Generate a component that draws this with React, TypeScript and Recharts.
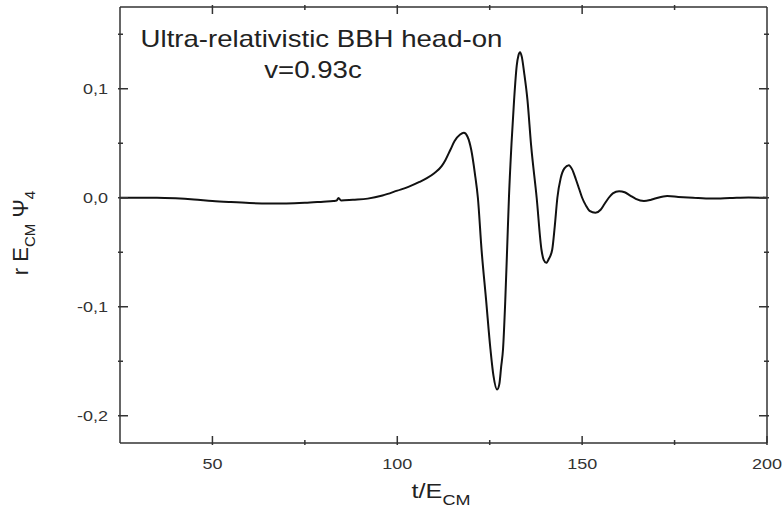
import React from 'react';
import { LineChart, Line, XAxis, YAxis } from 'recharts';

// time axis t/E_CM
const times = [
  25, 30, 35, 40, 45, 50, 55, 60, 65, 70, 75, 80, 82.7, 83.6, 84.1, 84.8, 88, 92, 96, 100,
  103, 106, 108, 110, 112, 113, 114.4, 115.5, 117, 118, 119, 120, 121, 121.8, 122.8, 124, 125.2,
  126, 127, 127.6, 128.1, 128.6, 129.2, 129.7, 130.2, 130.9, 131.6, 132.3, 132.8, 133.2,
  133.7, 134.3, 135.2, 136.2, 137.7, 139, 139.6, 140.3, 141, 141.9, 142.6, 143.3, 144.2,
  145.2, 146.4, 147.3, 148.3, 149.2, 150, 151, 152, 153.6, 155, 156, 157.2, 158.3, 160,
  161.5, 163, 164.5, 166.7, 168.5, 170, 173, 176, 180, 185, 190, 195, 200,
];

// r E_CM Psi_4
const psi4 = [
  0, 0, 0, -0.0005, -0.0015, -0.003, -0.004, -0.0048, -0.0052, -0.0052, -0.0047, -0.0036,
  -0.003, -0.0026, -0.0002, -0.0025, -0.0018, -0.0008, 0.002, 0.0065,
  0.01, 0.0145, 0.018, 0.0225, 0.029, 0.0345, 0.0443, 0.052, 0.058, 0.0596, 0.056, 0.044, 0.022,
  0, -0.048, -0.093, -0.139,
  -0.163, -0.176, -0.171, -0.155, -0.139, -0.095, -0.048, 0, 0.05, 0.09, 0.121, 0.131, 0.1336,
  0.129, 0.115, 0.09, 0.048, 0, -0.0477, -0.057, -0.0597, -0.056, -0.0477, -0.026, 0, 0.018,
  0.027, 0.0299, 0.026, 0.017, 0.008, 0, -0.007, -0.012, -0.0138, -0.011, -0.006, 0, 0.004, 0.006,
  0.005, 0.002, -0.001, -0.003, -0.002, -0.0005, 0.0015, 0.0008, 0, -0.0008, -0.0003, 0.0003, 0,
];

const xTicks = [25, 50, 75, 100, 125, 150, 175, 200];
const xMajor = [50, 100, 150, 200];
const yTicks = [-0.2, -0.15, -0.1, -0.05, 0, 0.05, 0.1, 0.15];

const data = times.map((t, i) => ({ t, v: psi4[i] }));

const FONT = '"Liberation Sans", Arial, sans-serif';
const INK = '#333';
const SX = 1.2; // text in the source is drawn a bit wide

const isMajorY = (v: number) => Math.abs(v * 10 - Math.round(v * 10)) < 1e-6;

const BottomTick = (props: any) => {
  const { x, y, payload } = props;
  const major = xMajor.includes(payload.value);
  if (payload.value === 25) return null;
  return (
    <g>
      <line x1={x} y1={y} x2={x} y2={y - (major ? 9 : 5)} stroke={INK} strokeWidth={1.5} />
      {major && (
        <text
          transform={`translate(${x},${y + 24}) scale(${SX},1)`}
          textAnchor="middle"
          fontSize={15}
          fontFamily={FONT}
          fill={INK}
        >
          {payload.value}
        </text>
      )}
    </g>
  );
};

const TopTick = (props: any) => {
  const { x, y, payload } = props;
  const major = xMajor.includes(payload.value);
  if (payload.value === 25 || payload.value === 200) return null;
  return <line x1={x} y1={y} x2={x} y2={y + (major ? 9 : 5)} stroke={INK} strokeWidth={1.5} />;
};

const LeftTick = (props: any) => {
  const { x, y, payload } = props;
  const major = isMajorY(payload.value);
  return (
    <g>
      <line x1={x} y1={y} x2={x + (major ? 10 : 5)} y2={y} stroke={INK} strokeWidth={1.5} />
      {major && (
        <text
          transform={`translate(${x - 10},${y + 5}) scale(${SX},1)`}
          textAnchor="end"
          fontSize={15}
          fontFamily={FONT}
          fill={INK}
        >
          {payload.value.toFixed(1).replace('.', ',')}
        </text>
      )}
    </g>
  );
};

const RightTick = (props: any) => {
  const { x, y, payload } = props;
  const major = isMajorY(payload.value);
  return <line x1={x} y1={y} x2={x - (major ? 10 : 5)} y2={y} stroke={INK} strokeWidth={1.5} />;
};

export default function App() {
  return (
    <div style={{ position: 'absolute', left: 0, top: 0, background: '#fff' }}>
      <LineChart width={782} height={515} data={data} margin={{ top: 6, right: 14, bottom: 0, left: 0 }}>
        <XAxis
          xAxisId="b"
          dataKey="t"
          type="number"
          domain={[25, 200]}
          ticks={xTicks}
          height={72}
          tickSize={0}
          tickLine={false}
          tick={BottomTick}
          axisLine={{ stroke: INK, strokeWidth: 1.5 }}
          allowDataOverflow
        />
        <XAxis
          xAxisId="top"
          orientation="top"
          dataKey="t"
          type="number"
          domain={[25, 200]}
          ticks={xTicks}
          height={1}
          tickSize={0}
          tickLine={false}
          tick={TopTick}
          axisLine={{ stroke: INK, strokeWidth: 1.5 }}
          allowDataOverflow
        />
        <YAxis
          yAxisId="l"
          type="number"
          domain={[-0.225, 0.175]}
          ticks={yTicks}
          width={120}
          tickSize={0}
          tickLine={false}
          tick={LeftTick}
          axisLine={{ stroke: INK, strokeWidth: 1.5 }}
          allowDataOverflow
        />
        <YAxis
          yAxisId="r"
          orientation="right"
          type="number"
          domain={[-0.225, 0.175]}
          ticks={yTicks}
          width={1}
          tickSize={0}
          tickLine={false}
          tick={RightTick}
          axisLine={{ stroke: INK, strokeWidth: 1.5 }}
          allowDataOverflow
        />
        {/* invisible copy so the mirrored frame axes are drawn */}
        <Line
          xAxisId="top"
          yAxisId="r"
          dataKey="v"
          stroke="none"
          dot={false}
          activeDot={false}
          isAnimationActive={false}
        />
        <Line
          xAxisId="b"
          yAxisId="l"
          dataKey="v"
          type="monotone"
          stroke="#111"
          strokeWidth={2}
          dot={false}
          isAnimationActive={false}
        />
        <text
          transform={`translate(321.5,47) scale(${SX},1)`}
          textAnchor="middle"
          fontSize={23}
          fontFamily={FONT}
          fill="#222"
        >
          Ultra-relativistic BBH head-on
        </text>
        <text
          transform={`translate(313,78) scale(${SX},1)`}
          textAnchor="middle"
          fontSize={23}
          fontFamily={FONT}
          fill="#222"
        >
          v=0.93c
        </text>
        <text
          transform={`translate(441,498) scale(${SX},1)`}
          textAnchor="middle"
          fontSize={21}
          fontFamily={FONT}
          fill="#222"
        >
          t/E<tspan fontSize={15} dy={7}>CM</tspan>
        </text>
        <text
          transform="translate(28,233) rotate(-90)"
          textAnchor="middle"
          fontSize={22}
          fontFamily={FONT}
          fill="#222"
        >
          r E<tspan fontSize={15} dy={7}>CM</tspan>
          <tspan dy={-7}> Ψ</tspan>
          <tspan fontSize={15} dy={7}>4</tspan>
        </text>
      </LineChart>
    </div>
  );
}
